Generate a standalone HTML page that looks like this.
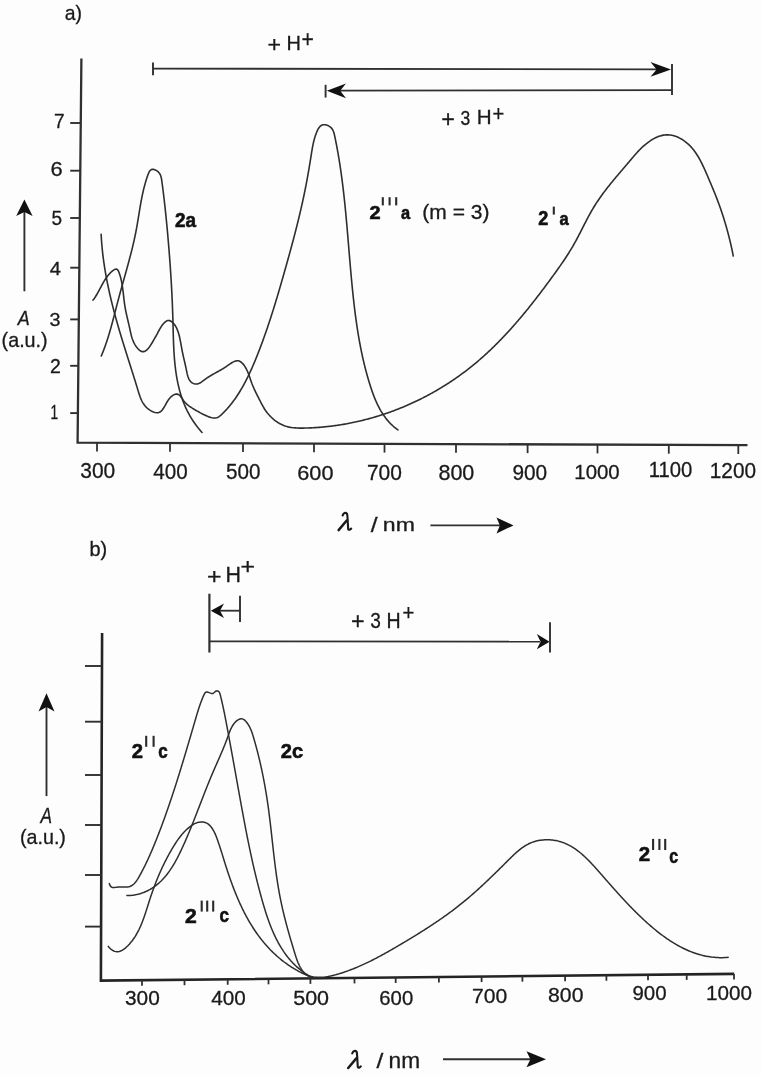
<!DOCTYPE html>
<html><head><meta charset="utf-8"><style>
html,body{margin:0;padding:0;background:#fdfdfd;}
body{width:761px;height:1075px;overflow:hidden;}
svg{display:block;filter:blur(0.35px);}
text{font-family:"Liberation Sans",sans-serif;fill:#1a1a1a;stroke:#1a1a1a;stroke-width:0.3px;}
.b{font-weight:bold;fill:#111;stroke:#111;stroke-width:0.6px;}
.serif{font-family:"Liberation Serif",serif;}
</style></head><body>
<svg width="761" height="1075" viewBox="0 0 761 1075">
<path d="M81.4,58.4 L77.6,442.6 L747.5,445.2" fill="none" stroke="#303030" stroke-width="2.3" stroke-linejoin="miter"/>
<line x1="70.2" y1="123" x2="80.76106194690266" y2="123" stroke="#303030" stroke-width="1.9"/>
<line x1="70.2" y1="170.7" x2="80.28927641853201" y2="170.7" stroke="#303030" stroke-width="1.9"/>
<line x1="70.2" y1="218" x2="79.82144716293597" y2="218" stroke="#303030" stroke-width="1.9"/>
<line x1="70.2" y1="267.7" x2="79.32988027069234" y2="267.7" stroke="#303030" stroke-width="1.9"/>
<line x1="70.2" y1="319.4" x2="78.81853201457574" y2="319.4" stroke="#303030" stroke-width="1.9"/>
<line x1="70.2" y1="365.8" x2="78.35960437272254" y2="365.8" stroke="#303030" stroke-width="1.9"/>
<line x1="70.2" y1="413.1" x2="77.89177511712649" y2="413.1" stroke="#303030" stroke-width="1.9"/>
<line x1="97" y1="442.6752948201224" x2="97" y2="451.47529482012243" stroke="#303030" stroke-width="1.8"/>
<line x1="170" y1="442.95862068965516" x2="170" y2="451.7586206896552" stroke="#303030" stroke-width="1.8"/>
<line x1="243" y1="443.24194655918797" x2="243" y2="452.041946559188" stroke="#303030" stroke-width="1.8"/>
<line x1="314" y1="443.5175100761308" x2="314" y2="452.3175100761308" stroke="#303030" stroke-width="1.8"/>
<line x1="384.5" y1="443.7911330049261" x2="384.5" y2="452.5911330049261" stroke="#303030" stroke-width="1.8"/>
<line x1="456" y1="444.0686371100164" x2="456" y2="452.86863711001644" stroke="#303030" stroke-width="1.8"/>
<line x1="527.6" y1="444.3465293327362" x2="527.6" y2="453.14652933273624" stroke="#303030" stroke-width="1.8"/>
<line x1="597.5" y1="444.61782355575457" x2="597.5" y2="453.4178235557546" stroke="#303030" stroke-width="1.8"/>
<line x1="668.8" y1="444.8945514255859" x2="668.8" y2="453.6945514255859" stroke="#303030" stroke-width="1.8"/>
<line x1="738.3" y1="445.16429317808627" x2="738.3" y2="453.9642931780863" stroke="#303030" stroke-width="1.8"/>
<line x1="24.4" y1="291.3" x2="24.4" y2="210" stroke="#303030" stroke-width="1.9"/>
<path d="M24.4,199.5 L16.2,216 L24.4,211.9 L32.599999999999994,216 Z" fill="#111"/>
<line x1="153" y1="68.6" x2="660" y2="69.4" stroke="#303030" stroke-width="1.8"/>
<line x1="153" y1="62.6" x2="153" y2="75.2" stroke="#303030" stroke-width="1.9"/>
<path d="M671,69.4 L650.5,62.00000000000001 L656.6,69.4 L650.5,76.80000000000001 Z" fill="#111"/>
<line x1="672" y1="64" x2="672" y2="95" stroke="#303030" stroke-width="1.9"/>
<line x1="338" y1="90.6" x2="672" y2="90.1" stroke="#303030" stroke-width="1.8"/>
<line x1="325.6" y1="84.8" x2="325.6" y2="97.6" stroke="#303030" stroke-width="1.9"/>
<path d="M326.8,90.8 L346,83.39999999999999 L340.2,90.8 L346,98.2 Z" fill="#111"/>
<g transform="translate(346,512.7) scale(1.0)" fill="none" stroke="#1a1a1a" stroke-linecap="round"><path d="M-3.4,2.8 C-2.4,0.2 -0.4,-0.6 1.1,1.2 C1.7,4 1.8,12 2.2,16.4 C2.9,17.6 4.2,17.1 5.2,15.8" stroke-width="2.1"/><path d="M0.7,7.8 L-7.4,17.4" stroke-width="2.5"/></g>
<line x1="430.4" y1="525.4" x2="500" y2="525.4" stroke="#303030" stroke-width="1.9"/>
<path d="M513.5,525.4 L496.5,517.4 L499.9,525.4 L496.5,533.4 Z" fill="#111"/>
<line x1="382.8" y1="197.2" x2="382.8" y2="205.4" stroke="#2a2a2a" stroke-width="2.1"/><line x1="389.6" y1="197.2" x2="389.6" y2="205.4" stroke="#2a2a2a" stroke-width="2.1"/><line x1="396.2" y1="197.2" x2="396.2" y2="205.4" stroke="#2a2a2a" stroke-width="2.1"/>
<line x1="553.8" y1="206.6" x2="553.8" y2="214.6" stroke="#2a2a2a" stroke-width="2.1"/>
<line x1="209.4" y1="593.7" x2="209.4" y2="652.5" stroke="#303030" stroke-width="2.2"/>
<line x1="240" y1="595.8" x2="240" y2="622" stroke="#303030" stroke-width="1.9"/>
<line x1="220" y1="610.7" x2="240" y2="610.7" stroke="#303030" stroke-width="1.8"/>
<path d="M210.8,610.7 L224,603.5 L220.0,610.7 L224,617.9000000000001 Z" fill="#111"/>
<line x1="209.4" y1="641.3" x2="540" y2="641.7" stroke="#303030" stroke-width="1.8"/>
<path d="M549.6,641.7 L536.8,634.1 L540.6,641.7 L536.8,649.3000000000001 Z" fill="#111"/>
<line x1="550" y1="622.3" x2="550" y2="652.6" stroke="#303030" stroke-width="1.9"/>
<path d="M102.1,632.9 L100.9,980.6 L734.2,973.9" fill="none" stroke="#242424" stroke-width="2.6" stroke-linejoin="miter"/>
<line x1="85" y1="666" x2="101.98576358930111" y2="666" stroke="#303030" stroke-width="1.9"/>
<line x1="85" y1="721.7" x2="101.79352890422778" y2="721.7" stroke="#303030" stroke-width="1.9"/>
<line x1="85" y1="775" x2="101.60957722174288" y2="775" stroke="#303030" stroke-width="1.9"/>
<line x1="85" y1="825" x2="101.43701466781708" y2="825" stroke="#303030" stroke-width="1.9"/>
<line x1="85" y1="875" x2="101.26445211389128" y2="875" stroke="#303030" stroke-width="1.9"/>
<line x1="85" y1="926.6" x2="101.08636755823987" y2="926.6" stroke="#303030" stroke-width="1.9"/>
<line x1="142" y1="980.16518237802" x2="142" y2="985.66518237802" stroke="#303030" stroke-width="1.8"/>
<line x1="184.5" y1="979.7155534501816" x2="184.5" y2="985.2155534501816" stroke="#303030" stroke-width="1.8"/>
<line x1="227.7" y1="979.2585188694142" x2="227.7" y2="984.7585188694142" stroke="#303030" stroke-width="1.8"/>
<line x1="268.5" y1="978.8268750986895" x2="268.5" y2="984.3268750986895" stroke="#303030" stroke-width="1.8"/>
<line x1="310.4" y1="978.3835938733617" x2="310.4" y2="983.8835938733617" stroke="#303030" stroke-width="1.8"/>
<line x1="354.5" y1="977.9170377388284" x2="354.5" y2="983.4170377388284" stroke="#303030" stroke-width="1.8"/>
<line x1="395.7" y1="977.4811621664298" x2="395.7" y2="982.9811621664298" stroke="#303030" stroke-width="1.8"/>
<line x1="438.9" y1="977.0241275856624" x2="438.9" y2="982.5241275856624" stroke="#303030" stroke-width="1.8"/>
<line x1="481.6" y1="976.5723827569872" x2="481.6" y2="982.0723827569872" stroke="#303030" stroke-width="1.8"/>
<line x1="522.4" y1="976.1407389862625" x2="522.4" y2="981.6407389862625" stroke="#303030" stroke-width="1.8"/>
<line x1="565.1" y1="975.6889941575872" x2="565.1" y2="981.1889941575872" stroke="#303030" stroke-width="1.8"/>
<line x1="606.4" y1="975.2520606347703" x2="606.4" y2="980.7520606347703" stroke="#303030" stroke-width="1.8"/>
<line x1="648" y1="974.8119532606979" x2="648" y2="980.3119532606979" stroke="#303030" stroke-width="1.8"/>
<line x1="686.7" y1="974.4025264487605" x2="686.7" y2="979.9025264487605" stroke="#303030" stroke-width="1.8"/>
<line x1="734" y1="973.9021159008369" x2="734" y2="979.4021159008369" stroke="#303030" stroke-width="1.8"/>
<line x1="46.5" y1="796.1" x2="46.5" y2="705" stroke="#303030" stroke-width="1.9"/>
<path d="M46.5,693.3 L38.5,711.5 L46.5,707.0 L54.5,711.5 Z" fill="#111"/>
<g transform="translate(355.6,1050.6) scale(1.0)" fill="none" stroke="#1a1a1a" stroke-linecap="round"><path d="M-3.4,2.8 C-2.4,0.2 -0.4,-0.6 1.1,1.2 C1.7,4 1.8,12 2.2,16.4 C2.9,17.6 4.2,17.1 5.2,15.8" stroke-width="2.1"/><path d="M0.7,7.8 L-7.4,17.4" stroke-width="2.5"/></g>
<line x1="443" y1="1059.3" x2="532" y2="1059.3" stroke="#303030" stroke-width="1.9"/>
<path d="M546,1059.3 L526.5,1051.3 L530.4,1059.3 L526.5,1067.3 Z" fill="#111"/>
<line x1="146.2" y1="735.8" x2="146.2" y2="746.8" stroke="#2a2a2a" stroke-width="2.1"/><line x1="153.6" y1="735.8" x2="153.6" y2="746.8" stroke="#2a2a2a" stroke-width="2.1"/>
<line x1="201.7" y1="900.6" x2="201.7" y2="911.6" stroke="#2a2a2a" stroke-width="2.1"/><line x1="207.2" y1="900.6" x2="207.2" y2="911.6" stroke="#2a2a2a" stroke-width="2.1"/><line x1="213.2" y1="900.6" x2="213.2" y2="911.6" stroke="#2a2a2a" stroke-width="2.1"/>
<line x1="653.1" y1="838.9" x2="653.1" y2="850" stroke="#2a2a2a" stroke-width="2.1"/><line x1="659.4" y1="838.9" x2="659.4" y2="850" stroke="#2a2a2a" stroke-width="2.1"/><line x1="665.2" y1="838.9" x2="665.2" y2="850" stroke="#2a2a2a" stroke-width="2.1"/>
<text id="a_lab" transform="translate(73.38,20.45) scale(0.970,1)" font-size="20.00" text-anchor="middle">a)</text>
<text id="ya7" transform="translate(59.37,128.45) scale(0.944,1)" font-size="20.14" text-anchor="middle">7</text>
<text id="ya6" transform="translate(56.50,176.45) scale(1.107,1)" font-size="19.79" text-anchor="middle">6</text>
<text id="ya5" transform="translate(56.87,225.45) scale(0.946,1)" font-size="20.13" text-anchor="middle">5</text>
<text id="ya4" transform="translate(55.25,274.70) scale(1.056,1)" font-size="19.06" text-anchor="middle">4</text>
<text id="ya3" transform="translate(54.88,325.95) scale(1.054,1)" font-size="18.73" text-anchor="middle">3</text>
<text id="ya2" transform="translate(55.50,373.20) scale(0.999,1)" font-size="19.43" text-anchor="middle">2</text>
<text id="ya1" transform="translate(54.38,418.70) scale(0.693,1)" font-size="19.79" text-anchor="middle">1</text>
<text id="xa300" transform="translate(97.75,478.20) scale(0.974,1)" font-size="21.53" text-anchor="middle">300</text>
<text id="xa400" transform="translate(170.50,479.45) scale(0.958,1)" font-size="21.53" text-anchor="middle">400</text>
<text id="xa500" transform="translate(243.25,479.45) scale(0.976,1)" font-size="21.18" text-anchor="middle">500</text>
<text id="xa600" transform="translate(315.37,479.95) scale(1.041,1)" font-size="20.84" text-anchor="middle">600</text>
<text id="xa700" transform="translate(384.38,480.20) scale(0.990,1)" font-size="21.18" text-anchor="middle">700</text>
<text id="xa800" transform="translate(456.38,480.20) scale(1.016,1)" font-size="21.18" text-anchor="middle">800</text>
<text id="xa900" transform="translate(529.75,480.20) scale(0.983,1)" font-size="21.18" text-anchor="middle">900</text>
<text id="xa1000" transform="translate(597.00,479.45) scale(1.015,1)" font-size="20.13" text-anchor="middle">1000</text>
<text id="xa1100" transform="translate(670.50,477.45) scale(0.942,1)" font-size="21.53" text-anchor="middle">1100</text>
<text id="xa1200" transform="translate(732.88,477.95) scale(0.937,1)" font-size="22.23" text-anchor="middle">1200</text>
<text id="aA" transform="translate(23.75,325.20) scale(0.891,1)" font-size="20.14" font-style="italic" text-anchor="middle">A</text>
<text id="aau" transform="translate(24.62,346.95) scale(0.986,1)" font-size="20.00" text-anchor="middle">(a.u.)</text>
<text id="ap1" transform="translate(274.25,52.45) scale(1.037,1)" font-size="22.36" text-anchor="middle">+</text>
<text id="aH1" transform="translate(293.63,50.45) scale(0.974,1)" font-size="20.51" text-anchor="middle">H</text>
<text id="as1" transform="translate(307.62,47.20) scale(0.897,1)" font-size="23.56" text-anchor="middle">+</text>
<text id="ap3" transform="translate(448.12,126.95) scale(0.981,1)" font-size="23.85" text-anchor="middle">+</text>
<text id="a3" transform="translate(465.38,124.70) scale(0.843,1)" font-size="20.83" text-anchor="middle">3</text>
<text id="aH3" transform="translate(484.13,124.45) scale(0.989,1)" font-size="20.87" text-anchor="middle">H</text>
<text id="as3" transform="translate(498.50,120.70) scale(0.919,1)" font-size="21.90" text-anchor="middle">+</text>
<text id="aslash" transform="translate(374.25,532.20) scale(1.227,1)" font-size="20.00" text-anchor="middle">/</text>
<text id="anm" transform="translate(398.87,531.20) scale(1.259,1)" font-size="18.32" text-anchor="middle">nm</text>
<text id="l2a" transform="translate(185.62,227.20) scale(0.975,1)" font-size="19.44" class="b" text-anchor="middle">2a</text>
<text id="l2iii" transform="translate(375.00,219.45) scale(1.046,1)" font-size="19.07" class="b" text-anchor="middle">2</text>
<text id="l2iiia" transform="translate(405.50,219.20) scale(0.890,1)" font-size="18.42" class="b" text-anchor="middle">a</text>
<text id="lm3" transform="translate(455.88,219.20) scale(1.051,1)" font-size="20.00" text-anchor="middle">(m = 3)</text>
<text id="l2p" transform="translate(543.37,224.95) scale(0.913,1)" font-size="19.79" class="b" text-anchor="middle">2</text>
<text id="l2pa" transform="translate(564.00,224.70) scale(0.898,1)" font-size="18.39" class="b" text-anchor="middle">a</text>
<text id="b_lab" transform="translate(98.25,555.70) scale(0.998,1)" font-size="20.00" text-anchor="middle">b)</text>
<text id="bp1" transform="translate(214.38,583.70) scale(1.100,1)" font-size="22.59" text-anchor="middle">+</text>
<text id="bH1" transform="translate(233.25,581.95) scale(0.978,1)" font-size="21.97" text-anchor="middle">H</text>
<text id="bs1" transform="translate(247.88,573.70) scale(1.100,1)" font-size="22.59" text-anchor="middle">+</text>
<text id="bp3" transform="translate(357.75,629.45) scale(1.011,1)" font-size="23.02" text-anchor="middle">+</text>
<text id="b3" transform="translate(375.62,627.95) scale(0.845,1)" font-size="22.61" text-anchor="middle">3</text>
<text id="bH3" transform="translate(393.63,627.70) scale(0.907,1)" font-size="21.60" text-anchor="middle">H</text>
<text id="bs3" transform="translate(408.50,619.70) scale(0.913,1)" font-size="22.18" text-anchor="middle">+</text>
<text id="xb300" transform="translate(142.38,1004.95) scale(1.036,1)" font-size="20.12" text-anchor="middle">300</text>
<text id="xb400" transform="translate(228.50,1004.95) scale(1.027,1)" font-size="20.14" text-anchor="middle">400</text>
<text id="xb500" transform="translate(311.12,1004.95) scale(1.070,1)" font-size="20.12" text-anchor="middle">500</text>
<text id="xb600" transform="translate(396.25,1004.70) scale(1.027,1)" font-size="19.79" text-anchor="middle">600</text>
<text id="xb700" transform="translate(489.62,1003.20) scale(1.014,1)" font-size="20.83" text-anchor="middle">700</text>
<text id="xb800" transform="translate(565.75,1001.70) scale(1.018,1)" font-size="20.83" text-anchor="middle">800</text>
<text id="xb900" transform="translate(649.50,999.70) scale(0.982,1)" font-size="20.83" text-anchor="middle">900</text>
<text id="xb1000" transform="translate(729.00,999.70) scale(0.992,1)" font-size="20.83" text-anchor="middle">1000</text>
<text id="bA" transform="translate(46.38,823.20) scale(0.814,1)" font-size="21.24" font-style="italic" text-anchor="middle">A</text>
<text id="bau" transform="translate(43.00,844.20) scale(0.982,1)" font-size="20.00" text-anchor="middle">(a.u.)</text>
<text id="bslash" transform="translate(379.88,1068.20) scale(1.231,1)" font-size="20.00" text-anchor="middle">/</text>
<text id="bnm" transform="translate(404.38,1068.45) scale(1.028,1)" font-size="22.07" text-anchor="middle">nm</text>
<text id="l2ii" transform="translate(137.25,757.70) scale(1.002,1)" font-size="20.14" class="b" text-anchor="middle">2</text>
<text id="l2iic" transform="translate(163.00,757.95) scale(0.864,1)" font-size="19.72" class="b" text-anchor="middle">c</text>
<text id="l2c" transform="translate(292.00,757.95) scale(0.980,1)" font-size="20.49" class="b" text-anchor="middle">2c</text>
<text id="l2iiib" transform="translate(190.87,922.95) scale(1.032,1)" font-size="20.51" class="b" text-anchor="middle">2</text>
<text id="l2iiibc" transform="translate(224.13,922.45) scale(0.884,1)" font-size="19.30" class="b" text-anchor="middle">c</text>
<text id="l2iiir" transform="translate(644.50,861.45) scale(0.996,1)" font-size="20.51" class="b" text-anchor="middle">2</text>
<text id="l2iiirc" transform="translate(673.75,863.45) scale(0.811,1)" font-size="19.74" class="b" text-anchor="middle">c</text>
<path d="M101.28,355.98 L101.75,354.86 L102.22,353.74 L102.67,352.62 L103.12,351.49 L103.56,350.36 L103.99,349.23 L104.41,348.10 L104.83,346.97 L105.23,345.83 L105.64,344.70 L106.03,343.56 L106.42,342.42 L106.80,341.27 L107.18,340.13 L107.55,338.98 L107.92,337.84 L108.28,336.69 L108.63,335.54 L108.98,334.39 L109.33,333.23 L109.67,332.08 L110.01,330.92 L110.34,329.77 L110.67,328.61 L111.00,327.45 L111.32,326.29 L111.64,325.13 L111.95,323.97 L112.27,322.81 L112.58,321.65 L112.89,320.48 L113.20,319.32 L113.50,318.16 L113.81,316.99 L114.11,315.83 L114.41,314.66 L114.71,313.49 L115.01,312.33 L115.31,311.16 L115.61,310.00 L115.91,308.83 L116.21,307.66 L116.51,306.50 L116.81,305.33 L117.12,304.16 L117.42,303.00 L117.72,301.83 L118.03,300.67 L118.34,299.50 L118.65,298.34 L118.96,297.17 L119.27,296.01 L119.59,294.85 L119.90,293.68 L120.22,292.52 L120.54,291.36 L120.86,290.20 L121.18,289.03 L121.51,287.87 L121.83,286.71 L122.15,285.55 L122.48,284.39 L122.80,283.23 L123.13,282.07 L123.46,280.91 L123.78,279.74 L124.11,278.58 L124.44,277.42 L124.76,276.26 L125.09,275.10 L125.41,273.94 L125.74,272.78 L126.06,271.62 L126.39,270.46 L126.71,269.29 L127.03,268.13 L127.35,266.97 L127.67,265.81 L127.99,264.65 L128.31,263.48 L128.62,262.32 L128.93,261.16 L129.24,259.99 L129.55,258.83 L129.86,257.66 L130.17,256.50 L130.47,255.33 L130.77,254.17 L131.07,253.00 L131.36,251.83 L131.66,250.66 L131.95,249.49 L132.23,248.33 L132.52,247.16 L132.80,245.99 L133.07,244.81 L133.35,243.64 L133.62,242.47 L133.88,241.30 L134.15,240.12 L134.41,238.95 L134.66,237.77 L134.91,236.59 L135.16,235.42 L135.40,234.24 L135.64,233.06 L135.87,231.88 L136.10,230.70 L136.32,229.51 L136.54,228.33 L136.75,227.15 L136.97,225.96 L137.17,224.77 L137.38,223.59 L137.58,222.40 L137.78,221.21 L137.97,220.02 L138.17,218.83 L138.37,217.65 L138.56,216.46 L138.75,215.27 L138.95,214.08 L139.14,212.89 L139.33,211.70 L139.53,210.51 L139.73,209.32 L139.92,208.13 L140.13,206.94 L140.33,205.75 L140.54,204.56 L140.75,203.38 L140.96,202.19 L141.18,201.00 L141.40,199.82 L141.63,198.63 L141.86,197.45 L142.10,196.27 L142.34,195.08 L142.59,193.90 L142.85,192.72 L143.12,191.55 L143.39,190.37 L143.67,189.19 L143.96,188.02 L144.26,186.85 L144.56,185.68 L144.88,184.51 L145.20,183.34 L145.54,182.18 L145.89,181.01 L146.24,179.85 L146.61,178.69 L146.99,177.53 L147.39,176.38 L147.79,175.22 L148.21,174.08 L148.67,172.98 L149.17,171.95 L149.73,171.04 L150.38,170.28 L151.14,169.71 L152.01,169.37 L153.02,169.29 L154.16,169.50 L155.37,169.95 L156.57,170.59 L157.67,171.37 L158.60,172.24 L159.37,173.18 L160.00,174.19 L160.50,175.25 L160.90,176.36 L161.21,177.51 L161.46,178.69 L161.66,179.88 L161.83,181.09 L161.99,182.30 L162.16,183.51 L162.32,184.72 L162.48,185.93 L162.63,187.14 L162.79,188.35 L162.94,189.56 L163.10,190.77 L163.25,191.98 L163.40,193.19 L163.54,194.40 L163.69,195.61 L163.83,196.81 L163.98,198.02 L164.12,199.23 L164.26,200.44 L164.40,201.64 L164.54,202.85 L164.67,204.06 L164.81,205.26 L164.94,206.47 L165.07,207.67 L165.20,208.88 L165.33,210.09 L165.46,211.29 L165.59,212.49 L165.71,213.70 L165.84,214.90 L165.96,216.11 L166.08,217.31 L166.20,218.51 L166.32,219.71 L166.44,220.92 L166.56,222.12 L166.67,223.32 L166.79,224.52 L166.90,225.72 L167.02,226.92 L167.13,228.12 L167.24,229.32 L167.35,230.52 L167.46,231.72 L167.57,232.92 L167.67,234.12 L167.78,235.32 L167.88,236.52 L167.99,237.72 L168.09,238.91 L168.20,240.11 L168.30,241.31 L168.40,242.50 L168.50,243.70 L168.60,244.89 L168.70,246.09 L168.80,247.28 L168.89,248.48 L168.99,249.67 L169.08,250.87 L169.18,252.06 L169.27,253.25 L169.37,254.45 L169.46,255.64 L169.55,256.83 L169.64,258.03 L169.73,259.22 L169.82,260.41 L169.91,261.60 L169.99,262.80 L170.08,263.99 L170.16,265.18 L170.25,266.37 L170.33,267.57 L170.41,268.76 L170.49,269.95 L170.57,271.15 L170.65,272.34 L170.73,273.53 L170.81,274.73 L170.88,275.92 L170.96,277.11 L171.03,278.31 L171.10,279.50 L171.18,280.70 L171.25,281.89 L171.32,283.09 L171.38,284.28 L171.45,285.48 L171.52,286.67 L171.58,287.87 L171.65,289.07 L171.71,290.26 L171.77,291.46 L171.83,292.66 L171.89,293.86 L171.95,295.06 L172.01,296.26 L172.07,297.46 L172.12,298.66 L172.18,299.86 L172.23,301.06 L172.28,302.27 L172.33,303.47 L172.38,304.67 L172.43,305.88 L172.47,307.08 L172.52,308.29 L172.56,309.50 L172.61,310.70 L172.65,311.91 L172.69,313.12 L172.73,314.33 L172.77,315.54 L172.80,316.75 L172.84,317.97 L172.87,319.18 L172.91,320.40 L172.94,321.61 L172.97,322.83 L173.00,324.04 L173.03,325.26 L173.06,326.48 L173.09,327.70 L173.12,328.92 L173.15,330.14 L173.18,331.36 L173.21,332.57 L173.24,333.79 L173.28,335.01 L173.31,336.23 L173.35,337.45 L173.39,338.67 L173.43,339.89 L173.47,341.11 L173.52,342.33 L173.56,343.55 L173.61,344.77 L173.67,345.98 L173.72,347.20 L173.78,348.41 L173.85,349.63 L173.91,350.84 L173.98,352.06 L174.06,353.27 L174.14,354.48 L174.22,355.69 L174.31,356.90 L174.40,358.11 L174.50,359.31 L174.60,360.52 L174.71,361.72 L174.83,362.92 L174.95,364.12 L175.07,365.32 L175.21,366.51 L175.35,367.71 L175.49,368.90 L175.64,370.09 L175.80,371.28 L175.97,372.47 L176.14,373.65 L176.33,374.83 L176.52,376.01 L176.71,377.19 L176.92,378.37 L177.13,379.54 L177.36,380.71 L177.59,381.88 L177.83,383.04 L178.08,384.20 L178.34,385.36 L178.61,386.52 L178.89,387.67 L179.18,388.82 L179.47,389.96 L179.78,391.11 L180.10,392.25 L180.43,393.38 L180.78,394.52 L181.13,395.65 L181.49,396.77 L181.87,397.90 L182.26,399.01 L182.65,400.13 L183.07,401.24 L183.49,402.35 L183.93,403.45 L184.37,404.55 L184.84,405.64 L185.31,406.73 L185.80,407.82 L186.30,408.90 L186.82,409.98 L187.35,411.05 L187.89,412.12 L188.45,413.19 L189.02,414.24 L189.61,415.30 L190.21,416.35 L190.82,417.39 L191.46,418.43 L192.10,419.47 L192.77,420.50 L193.45,421.52 L194.14,422.54 L194.85,423.55 L195.58,424.56 L196.32,425.57 L197.08,426.56 L197.86,427.56 L198.66,428.54 L199.47,429.52 L200.30,430.50 L201.15,431.47 L202.02,432.43" fill="none" stroke="#2e2e2e" stroke-width="1.6" stroke-linecap="round" stroke-linejoin="round"/>
<path d="M93.04,300.10 L93.75,299.18 L94.43,298.24 L95.09,297.28 L95.72,296.29 L96.34,295.28 L96.95,294.26 L97.54,293.22 L98.13,292.16 L98.70,291.10 L99.28,290.02 L99.85,288.94 L100.42,287.86 L100.99,286.77 L101.57,285.69 L102.15,284.60 L102.75,283.52 L103.36,282.44 L103.98,281.38 L104.63,280.32 L105.29,279.28 L105.97,278.25 L106.68,277.25 L107.42,276.26 L108.19,275.29 L108.99,274.34 L109.83,273.42 L110.71,272.54 L111.62,271.68 L112.57,270.87 L113.53,270.16 L114.47,269.60 L115.38,269.24 L116.23,269.12 L117.00,269.29 L117.67,269.81 L118.22,270.65 L118.70,271.70 L119.13,272.82 L119.53,273.95 L119.90,275.09 L120.25,276.24 L120.57,277.40 L120.88,278.57 L121.15,279.74 L121.41,280.92 L121.66,282.11 L121.88,283.30 L122.09,284.49 L122.28,285.70 L122.47,286.90 L122.64,288.11 L122.80,289.32 L122.95,290.53 L123.10,291.75 L123.25,292.96 L123.38,294.18 L123.52,295.40 L123.66,296.62 L123.80,297.83 L123.94,299.05 L124.08,300.26 L124.23,301.47 L124.39,302.67 L124.55,303.88 L124.73,305.08 L124.92,306.27 L125.12,307.46 L125.33,308.64 L125.55,309.82 L125.78,311.00 L126.02,312.17 L126.27,313.34 L126.52,314.50 L126.78,315.67 L127.05,316.83 L127.31,317.99 L127.58,319.15 L127.86,320.30 L128.13,321.46 L128.40,322.62 L128.67,323.78 L128.94,324.94 L129.21,326.10 L129.47,327.26 L129.72,328.42 L129.97,329.59 L130.22,330.75 L130.48,331.92 L130.74,333.09 L131.02,334.26 L131.31,335.42 L131.63,336.58 L131.98,337.74 L132.36,338.90 L132.77,340.04 L133.23,341.19 L133.74,342.32 L134.30,343.45 L134.92,344.57 L135.60,345.68 L136.34,346.77 L137.14,347.81 L137.97,348.77 L138.85,349.64 L139.75,350.39 L140.67,350.99 L141.61,351.41 L142.55,351.64 L143.48,351.64 L144.40,351.42 L145.31,350.99 L146.21,350.38 L147.09,349.61 L147.94,348.72 L148.78,347.72 L149.58,346.65 L150.36,345.52 L151.11,344.36 L151.83,343.21 L152.51,342.07 L153.16,340.98 L153.77,339.94 L154.35,338.94 L154.91,337.96 L155.46,336.99 L156.00,336.02 L156.53,335.05 L157.07,334.06 L157.62,333.03 L158.18,331.97 L158.76,330.87 L159.37,329.75 L160.01,328.62 L160.69,327.49 L161.40,326.37 L162.15,325.29 L162.96,324.24 L163.81,323.25 L164.72,322.33 L165.66,321.55 L166.63,320.93 L167.61,320.54 L168.59,320.42 L169.56,320.59 L170.50,321.00 L171.40,321.55 L172.24,322.20 L173.03,322.92 L173.77,323.71 L174.46,324.55 L175.10,325.46 L175.70,326.41 L176.25,327.42 L176.77,328.47 L177.25,329.57 L177.69,330.70 L178.10,331.87 L178.49,333.06 L178.84,334.28 L179.17,335.52 L179.48,336.78 L179.77,338.05 L180.04,339.33 L180.30,340.62 L180.54,341.90 L180.78,343.18 L181.00,344.46 L181.23,345.72 L181.45,346.97 L181.67,348.19 L181.89,349.40 L182.12,350.58 L182.35,351.73 L182.59,352.87 L182.83,353.99 L183.07,355.10 L183.32,356.21 L183.56,357.30 L183.81,358.39 L184.06,359.48 L184.32,360.58 L184.57,361.68 L184.83,362.79 L185.08,363.92 L185.34,365.06 L185.60,366.22 L185.85,367.40 L186.11,368.61 L186.37,369.84 L186.62,371.11 L186.89,372.39 L187.17,373.67 L187.49,374.95 L187.84,376.19 L188.24,377.39 L188.71,378.54 L189.24,379.61 L189.85,380.59 L190.55,381.48 L191.35,382.25 L192.24,382.89 L193.22,383.39 L194.26,383.75 L195.35,383.95 L196.47,384.00 L197.60,383.87 L198.72,383.57 L199.83,383.09 L200.91,382.45 L201.97,381.71 L203.01,380.91 L204.05,380.10 L205.07,379.33 L206.09,378.59 L207.11,377.89 L208.12,377.22 L209.12,376.57 L210.12,375.95 L211.12,375.35 L212.12,374.77 L213.12,374.20 L214.12,373.64 L215.12,373.09 L216.12,372.54 L217.12,371.99 L218.13,371.43 L219.14,370.87 L220.16,370.30 L221.18,369.72 L222.21,369.11 L223.25,368.49 L224.30,367.84 L225.36,367.16 L226.42,366.46 L227.50,365.71 L228.59,364.95 L229.68,364.19 L230.77,363.46 L231.86,362.77 L232.95,362.14 L234.02,361.61 L235.08,361.19 L236.13,360.90 L237.16,360.76 L238.16,360.80 L239.14,361.04 L240.08,361.46 L241.00,362.04 L241.88,362.77 L242.72,363.61 L243.52,364.55 L244.28,365.57 L244.99,366.65 L245.66,367.76 L246.28,368.88 L246.85,370.00 L247.37,371.13 L247.86,372.25 L248.31,373.37 L248.74,374.50 L249.15,375.62 L249.54,376.74 L249.92,377.86 L250.30,378.98 L250.68,380.10 L251.06,381.22 L251.46,382.33 L251.87,383.45 L252.31,384.56 L252.76,385.68 L253.23,386.79 L253.71,387.89 L254.20,389.00 L254.71,390.10 L255.23,391.20 L255.75,392.30 L256.29,393.39 L256.83,394.48 L257.37,395.57 L257.92,396.65 L258.47,397.73 L259.02,398.81 L259.57,399.88 L260.12,400.94 L260.66,402.00 L261.20,403.06 L261.75,404.10 L262.31,405.15 L262.88,406.18 L263.46,407.20 L264.07,408.22 L264.70,409.23 L265.37,410.22 L266.06,411.21 L266.79,412.18 L267.54,413.14 L268.32,414.08 L269.13,415.00 L269.96,415.90 L270.82,416.78 L271.71,417.64 L272.61,418.47 L273.54,419.27 L274.49,420.05 L275.46,420.80 L276.45,421.51 L277.46,422.20 L278.49,422.84 L279.53,423.46 L280.59,424.03 L281.66,424.56 L282.75,425.06 L283.85,425.50 L284.96,425.91 L286.08,426.27 L287.21,426.60 L288.35,426.88 L289.50,427.13 L290.66,427.35 L291.83,427.53 L293.00,427.68 L294.19,427.81 L295.37,427.91 L296.56,427.99 L297.76,428.05 L298.96,428.09 L300.16,428.11 L301.37,428.12 L302.57,428.11 L303.78,428.09 L304.99,428.07 L306.20,428.04 L307.41,428.00 L308.62,427.96 L309.82,427.91 L311.03,427.86 L312.24,427.80 L313.44,427.74 L314.65,427.67 L315.85,427.59 L317.06,427.51 L318.26,427.42 L319.47,427.33 L320.67,427.23 L321.87,427.13 L323.07,427.02 L324.27,426.91 L325.47,426.79 L326.67,426.66 L327.87,426.53 L329.07,426.39 L330.27,426.25 L331.46,426.11 L332.66,425.95 L333.85,425.80 L335.05,425.63 L336.24,425.47 L337.43,425.29 L338.62,425.11 L339.81,424.93 L341.00,424.74 L342.19,424.55 L343.38,424.35 L344.57,424.14 L345.75,423.93 L346.94,423.71 L348.12,423.49 L349.30,423.27 L350.48,423.04 L351.66,422.80 L352.84,422.56 L354.02,422.31 L355.20,422.06 L356.37,421.80 L357.55,421.54 L358.72,421.27 L359.89,421.00 L361.06,420.72 L362.23,420.44 L363.40,420.15 L364.57,419.85 L365.73,419.56 L366.90,419.25 L368.06,418.94 L369.22,418.63 L370.38,418.31 L371.54,417.99 L372.70,417.66 L373.85,417.33 L375.01,416.99 L376.16,416.64 L377.31,416.29 L378.46,415.94 L379.61,415.58 L380.75,415.22 L381.90,414.85 L383.04,414.48 L384.18,414.10 L385.32,413.71 L386.46,413.33 L387.60,412.93 L388.73,412.54 L389.87,412.13 L391.00,411.73 L392.13,411.31 L393.25,410.90 L394.38,410.47 L395.50,410.05 L396.63,409.62 L397.75,409.18 L398.86,408.74 L399.98,408.29 L401.10,407.84 L402.21,407.39 L403.32,406.93 L404.43,406.46 L405.53,405.99 L406.64,405.52 L407.74,405.04 L408.84,404.55 L409.94,404.07 L411.04,403.57 L412.13,403.08 L413.22,402.57 L414.31,402.07 L415.40,401.56 L416.49,401.04 L417.57,400.52 L418.65,399.99 L419.73,399.46 L420.81,398.93 L421.88,398.39 L422.95,397.85 L424.02,397.30 L425.09,396.75 L426.16,396.19 L427.22,395.63 L428.28,395.06 L429.34,394.49 L430.39,393.92 L431.44,393.34 L432.49,392.75 L433.54,392.17 L434.59,391.57 L435.63,390.98 L436.67,390.38 L437.71,389.77 L438.74,389.16 L439.78,388.55 L440.81,387.93 L441.83,387.30 L442.86,386.68 L443.88,386.04 L444.90,385.41 L445.91,384.77 L446.93,384.12 L447.94,383.47 L448.95,382.82 L449.95,382.16 L450.95,381.50 L451.95,380.84 L452.95,380.16 L453.94,379.49 L454.93,378.81 L455.92,378.13 L456.91,377.44 L457.89,376.75 L458.87,376.06 L459.84,375.36 L460.82,374.65 L461.79,373.95 L462.75,373.23 L463.72,372.52 L464.68,371.80 L465.64,371.07 L466.59,370.35 L467.54,369.61 L468.49,368.88 L469.43,368.14 L470.38,367.39 L471.32,366.64 L472.25,365.89 L473.18,365.13 L474.11,364.37 L475.04,363.61 L475.96,362.84 L476.88,362.07 L477.79,361.29 L478.71,360.51 L479.61,359.73 L480.52,358.94 L481.42,358.15 L482.32,357.36 L483.22,356.56 L484.11,355.76 L485.01,354.95 L485.89,354.14 L486.78,353.33 L487.66,352.52 L488.54,351.70 L489.41,350.88 L490.29,350.05 L491.16,349.22 L492.02,348.39 L492.89,347.55 L493.75,346.71 L494.61,345.87 L495.46,345.03 L496.32,344.18 L497.17,343.33 L498.01,342.47 L498.86,341.62 L499.70,340.76 L500.54,339.90 L501.38,339.03 L502.21,338.16 L503.04,337.29 L503.87,336.42 L504.70,335.54 L505.52,334.66 L506.34,333.78 L507.16,332.90 L507.98,332.01 L508.79,331.12 L509.60,330.23 L510.41,329.34 L511.22,328.44 L512.02,327.54 L512.83,326.64 L513.62,325.74 L514.42,324.83 L515.22,323.92 L516.01,323.01 L516.80,322.10 L517.59,321.19 L518.37,320.27 L519.16,319.35 L519.94,318.43 L520.72,317.51 L521.50,316.59 L522.27,315.66 L523.04,314.73 L523.81,313.80 L524.58,312.87 L525.35,311.94 L526.11,311.01 L526.88,310.07 L527.64,309.13 L528.40,308.19 L529.15,307.25 L529.91,306.31 L530.66,305.37 L531.41,304.42 L532.16,303.48 L532.91,302.53 L533.66,301.58 L534.40,300.63 L535.14,299.68 L535.88,298.72 L536.62,297.77 L537.36,296.82 L538.10,295.86 L538.83,294.90 L539.56,293.95 L540.29,292.99 L541.02,292.03 L541.75,291.07 L542.48,290.10 L543.20,289.14 L543.92,288.18 L544.64,287.22 L545.36,286.25 L546.08,285.29 L546.80,284.32 L547.52,283.35 L548.23,282.39 L548.94,281.42 L549.65,280.45 L550.36,279.48 L551.07,278.51 L551.78,277.55 L552.49,276.58 L553.19,275.61 L553.90,274.64 L554.60,273.67 L555.30,272.69 L556.00,271.72 L556.70,270.75 L557.39,269.78 L558.08,268.80 L558.77,267.83 L559.46,266.85 L560.15,265.87 L560.83,264.89 L561.51,263.91 L562.19,262.92 L562.86,261.94 L563.53,260.95 L564.20,259.96 L564.86,258.97 L565.52,257.97 L566.17,256.97 L566.83,255.97 L567.47,254.97 L568.12,253.96 L568.75,252.96 L569.39,251.94 L570.02,250.93 L570.64,249.91 L571.26,248.88 L571.87,247.86 L572.48,246.83 L573.09,245.79 L573.68,244.75 L574.28,243.71 L574.86,242.67 L575.44,241.61 L576.02,240.56 L576.59,239.50 L577.16,238.44 L577.72,237.38 L578.28,236.31 L578.84,235.24 L579.39,234.17 L579.94,233.10 L580.49,232.02 L581.04,230.95 L581.59,229.87 L582.14,228.80 L582.68,227.72 L583.23,226.64 L583.78,225.56 L584.33,224.49 L584.88,223.41 L585.43,222.33 L585.99,221.26 L586.54,220.19 L587.10,219.11 L587.67,218.05 L588.23,216.98 L588.80,215.91 L589.38,214.85 L589.96,213.79 L590.55,212.74 L591.14,211.69 L591.74,210.64 L592.34,209.60 L592.95,208.56 L593.57,207.53 L594.20,206.50 L594.83,205.47 L595.48,204.45 L596.13,203.44 L596.78,202.43 L597.45,201.43 L598.12,200.43 L598.80,199.43 L599.48,198.44 L600.17,197.45 L600.87,196.47 L601.57,195.49 L602.28,194.52 L602.99,193.54 L603.71,192.58 L604.43,191.61 L605.16,190.65 L605.89,189.69 L606.63,188.74 L607.37,187.79 L608.12,186.84 L608.87,185.90 L609.62,184.95 L610.37,184.01 L611.13,183.08 L611.89,182.14 L612.66,181.21 L613.43,180.28 L614.19,179.35 L614.97,178.42 L615.74,177.50 L616.51,176.58 L617.29,175.65 L618.07,174.73 L618.85,173.82 L619.63,172.90 L620.41,171.98 L621.19,171.07 L621.97,170.15 L622.75,169.24 L623.53,168.33 L624.31,167.41 L625.09,166.50 L625.86,165.59 L626.64,164.68 L627.42,163.77 L628.19,162.86 L628.97,161.95 L629.74,161.04 L630.51,160.13 L631.27,159.21 L632.04,158.30 L632.81,157.40 L633.58,156.49 L634.36,155.59 L635.14,154.69 L635.93,153.80 L636.72,152.92 L637.52,152.04 L638.33,151.16 L639.15,150.30 L639.98,149.45 L640.83,148.60 L641.68,147.77 L642.56,146.94 L643.44,146.13 L644.35,145.33 L645.27,144.55 L646.21,143.78 L647.18,143.02 L648.16,142.28 L649.17,141.56 L650.19,140.86 L651.23,140.19 L652.29,139.54 L653.37,138.92 L654.46,138.33 L655.56,137.78 L656.68,137.26 L657.81,136.79 L658.94,136.36 L660.09,135.98 L661.24,135.65 L662.40,135.37 L663.57,135.14 L664.74,134.98 L665.91,134.87 L667.08,134.83 L668.26,134.85 L669.43,134.94 L670.60,135.08 L671.76,135.28 L672.92,135.54 L674.07,135.85 L675.21,136.21 L676.35,136.61 L677.46,137.07 L678.57,137.56 L679.65,138.10 L680.73,138.67 L681.78,139.28 L682.81,139.92 L683.82,140.60 L684.80,141.30 L685.76,142.03 L686.70,142.78 L687.61,143.56 L688.49,144.36 L689.35,145.18 L690.19,146.03 L691.00,146.89 L691.79,147.77 L692.56,148.67 L693.31,149.59 L694.04,150.53 L694.76,151.49 L695.45,152.45 L696.13,153.44 L696.79,154.44 L697.43,155.45 L698.06,156.47 L698.67,157.51 L699.27,158.56 L699.86,159.61 L700.43,160.68 L700.99,161.76 L701.55,162.84 L702.09,163.93 L702.62,165.03 L703.14,166.13 L703.66,167.23 L704.17,168.34 L704.67,169.46 L705.16,170.57 L705.66,171.69 L706.14,172.81 L706.63,173.93 L707.11,175.04 L707.58,176.16 L708.06,177.27 L708.54,178.38 L709.01,179.49 L709.48,180.60 L709.95,181.70 L710.42,182.81 L710.89,183.91 L711.35,185.01 L711.81,186.11 L712.27,187.21 L712.73,188.32 L713.19,189.42 L713.64,190.52 L714.09,191.62 L714.54,192.72 L714.98,193.82 L715.42,194.93 L715.86,196.04 L716.30,197.14 L716.73,198.25 L717.16,199.37 L717.58,200.48 L718.00,201.60 L718.42,202.72 L718.83,203.84 L719.24,204.96 L719.65,206.09 L720.05,207.22 L720.45,208.36 L720.84,209.49 L721.23,210.63 L721.62,211.77 L722.00,212.91 L722.38,214.06 L722.76,215.20 L723.13,216.35 L723.50,217.50 L723.86,218.65 L724.22,219.81 L724.57,220.96 L724.92,222.12 L725.27,223.28 L725.61,224.44 L725.95,225.60 L726.28,226.76 L726.62,227.93 L726.94,229.09 L727.26,230.26 L727.58,231.42 L727.89,232.59 L728.20,233.76 L728.51,234.93 L728.81,236.10 L729.11,237.27 L729.40,238.44 L729.69,239.61 L729.97,240.78 L730.25,241.95 L730.52,243.12 L730.79,244.29 L731.06,245.46 L731.32,246.63 L731.58,247.81 L731.83,248.98 L732.08,250.15 L732.33,251.32 L732.56,252.49 L732.80,253.65 L733.03,254.82 L733.26,255.99" fill="none" stroke="#2e2e2e" stroke-width="1.6" stroke-linecap="round" stroke-linejoin="round"/>
<path d="M101.14,234.26 L101.20,235.47 L101.27,236.68 L101.34,237.88 L101.41,239.08 L101.49,240.29 L101.58,241.49 L101.67,242.69 L101.77,243.89 L101.87,245.09 L101.97,246.29 L102.09,247.49 L102.20,248.69 L102.32,249.89 L102.45,251.09 L102.58,252.28 L102.71,253.48 L102.85,254.67 L102.99,255.87 L103.14,257.06 L103.29,258.25 L103.45,259.44 L103.61,260.64 L103.77,261.83 L103.94,263.02 L104.12,264.21 L104.30,265.39 L104.48,266.58 L104.66,267.77 L104.85,268.96 L105.05,270.14 L105.25,271.33 L105.45,272.51 L105.65,273.70 L105.86,274.88 L106.08,276.06 L106.29,277.24 L106.51,278.42 L106.74,279.60 L106.97,280.78 L107.20,281.96 L107.43,283.14 L107.67,284.32 L107.91,285.50 L108.16,286.67 L108.41,287.85 L108.66,289.02 L108.91,290.20 L109.17,291.37 L109.43,292.54 L109.69,293.72 L109.96,294.89 L110.23,296.06 L110.51,297.23 L110.78,298.40 L111.06,299.57 L111.34,300.74 L111.63,301.91 L111.91,303.07 L112.20,304.24 L112.50,305.41 L112.79,306.57 L113.09,307.74 L113.39,308.90 L113.69,310.06 L114.00,311.23 L114.30,312.39 L114.61,313.55 L114.93,314.71 L115.24,315.87 L115.56,317.03 L115.88,318.19 L116.20,319.35 L116.52,320.51 L116.84,321.66 L117.17,322.82 L117.50,323.97 L117.83,325.13 L118.16,326.28 L118.50,327.44 L118.83,328.59 L119.17,329.74 L119.51,330.90 L119.85,332.05 L120.19,333.20 L120.53,334.35 L120.88,335.50 L121.23,336.65 L121.58,337.80 L121.92,338.94 L122.28,340.09 L122.63,341.24 L122.98,342.39 L123.33,343.53 L123.69,344.68 L124.05,345.82 L124.40,346.97 L124.76,348.11 L125.12,349.26 L125.48,350.40 L125.84,351.55 L126.20,352.69 L126.56,353.84 L126.92,354.98 L127.28,356.12 L127.65,357.27 L128.01,358.41 L128.37,359.56 L128.74,360.70 L129.10,361.85 L129.46,362.99 L129.83,364.14 L130.19,365.28 L130.55,366.43 L130.92,367.57 L131.28,368.72 L131.64,369.87 L132.01,371.01 L132.37,372.16 L132.73,373.31 L133.09,374.46 L133.45,375.61 L133.81,376.76 L134.17,377.91 L134.53,379.06 L134.89,380.21 L135.25,381.36 L135.61,382.52 L135.96,383.67 L136.32,384.83 L136.67,385.98 L137.02,387.14 L137.37,388.30 L137.72,389.46 L138.07,390.62 L138.42,391.77 L138.78,392.93 L139.15,394.08 L139.53,395.22 L139.93,396.36 L140.34,397.48 L140.79,398.59 L141.26,399.68 L141.77,400.75 L142.31,401.80 L142.90,402.82 L143.53,403.82 L144.21,404.80 L144.94,405.74 L145.73,406.65 L146.57,407.53 L147.49,408.36 L148.47,409.16 L149.52,409.92 L150.63,410.62 L151.78,411.25 L152.96,411.79 L154.13,412.23 L155.30,412.54 L156.43,412.72 L157.51,412.74 L158.52,412.60 L159.46,412.27 L160.32,411.79 L161.13,411.16 L161.88,410.40 L162.59,409.53 L163.27,408.57 L163.93,407.53 L164.57,406.43 L165.21,405.29 L165.86,404.12 L166.52,402.94 L167.20,401.76 L167.91,400.61 L168.67,399.50 L169.48,398.45 L170.35,397.47 L171.26,396.59 L172.21,395.81 L173.18,395.16 L174.16,394.64 L175.15,394.29 L176.14,394.12 L177.11,394.13 L178.05,394.36 L178.96,394.81 L179.82,395.50 L180.64,396.41 L181.42,397.46 L182.18,398.57 L182.93,399.67 L183.67,400.71 L184.41,401.67 L185.17,402.55 L185.96,403.38 L186.78,404.17 L187.65,404.92 L188.57,405.64 L189.53,406.33 L190.53,407.01 L191.55,407.67 L192.59,408.31 L193.64,408.95 L194.68,409.58 L195.72,410.20 L196.76,410.82 L197.80,411.42 L198.85,412.02 L199.89,412.60 L200.94,413.17 L202.00,413.73 L203.07,414.28 L204.15,414.80 L205.24,415.31 L206.34,415.80 L207.46,416.27 L208.60,416.71 L209.75,417.13 L210.91,417.49 L212.06,417.78 L213.22,417.97 L214.36,418.05 L215.48,418.00 L216.57,417.80 L217.63,417.42 L218.66,416.87 L219.65,416.18 L220.61,415.39 L221.55,414.54 L222.46,413.66 L223.36,412.78 L224.24,411.89 L225.10,411.00 L225.94,410.10 L226.77,409.20 L227.58,408.30 L228.38,407.38 L229.16,406.47 L229.93,405.55 L230.68,404.62 L231.42,403.69 L232.15,402.75 L232.87,401.80 L233.58,400.85 L234.28,399.90 L234.97,398.93 L235.65,397.96 L236.32,396.98 L236.98,396.00 L237.63,395.01 L238.28,394.01 L238.92,393.01 L239.55,392.00 L240.17,390.98 L240.78,389.96 L241.39,388.94 L241.99,387.90 L242.58,386.87 L243.17,385.83 L243.75,384.78 L244.32,383.73 L244.88,382.67 L245.44,381.61 L245.99,380.55 L246.54,379.48 L247.08,378.41 L247.61,377.33 L248.14,376.25 L248.66,375.17 L249.18,374.08 L249.69,372.99 L250.20,371.90 L250.70,370.80 L251.20,369.70 L251.69,368.60 L252.18,367.50 L252.66,366.39 L253.14,365.29 L253.61,364.18 L254.09,363.06 L254.55,361.95 L255.02,360.83 L255.48,359.72 L255.93,358.60 L256.39,357.48 L256.84,356.36 L257.28,355.24 L257.73,354.12 L258.17,353.00 L258.61,351.87 L259.05,350.75 L259.48,349.63 L259.91,348.50 L260.34,347.37 L260.76,346.25 L261.19,345.12 L261.61,343.99 L262.03,342.86 L262.44,341.74 L262.85,340.61 L263.27,339.48 L263.67,338.34 L264.08,337.21 L264.48,336.08 L264.89,334.95 L265.28,333.81 L265.68,332.68 L266.08,331.55 L266.47,330.41 L266.86,329.27 L267.25,328.14 L267.63,327.00 L268.02,325.86 L268.40,324.72 L268.78,323.59 L269.16,322.45 L269.54,321.31 L269.91,320.17 L270.29,319.03 L270.66,317.88 L271.03,316.74 L271.39,315.60 L271.76,314.46 L272.12,313.31 L272.49,312.17 L272.85,311.03 L273.21,309.88 L273.57,308.74 L273.92,307.59 L274.28,306.44 L274.63,305.30 L274.99,304.15 L275.34,303.00 L275.69,301.86 L276.04,300.71 L276.38,299.56 L276.73,298.41 L277.08,297.26 L277.42,296.11 L277.76,294.96 L278.10,293.81 L278.44,292.66 L278.78,291.51 L279.12,290.36 L279.46,289.20 L279.80,288.05 L280.13,286.90 L280.47,285.75 L280.80,284.59 L281.14,283.44 L281.47,282.29 L281.80,281.13 L282.13,279.98 L282.47,278.82 L282.80,277.67 L283.13,276.51 L283.45,275.36 L283.78,274.20 L284.11,273.05 L284.44,271.89 L284.77,270.73 L285.09,269.58 L285.42,268.42 L285.75,267.26 L286.07,266.11 L286.40,264.95 L286.72,263.79 L287.05,262.64 L287.37,261.48 L287.69,260.32 L288.02,259.16 L288.34,258.00 L288.66,256.84 L288.98,255.68 L289.30,254.52 L289.62,253.36 L289.94,252.20 L290.26,251.04 L290.57,249.88 L290.89,248.72 L291.20,247.56 L291.52,246.40 L291.83,245.24 L292.14,244.08 L292.45,242.92 L292.76,241.75 L293.07,240.59 L293.38,239.43 L293.69,238.26 L294.00,237.10 L294.30,235.94 L294.60,234.77 L294.91,233.61 L295.21,232.44 L295.51,231.28 L295.81,230.11 L296.10,228.95 L296.40,227.78 L296.69,226.61 L296.99,225.45 L297.28,224.28 L297.57,223.11 L297.86,221.95 L298.15,220.78 L298.43,219.61 L298.72,218.44 L299.00,217.27 L299.28,216.10 L299.56,214.93 L299.84,213.76 L300.11,212.59 L300.39,211.42 L300.66,210.25 L300.93,209.08 L301.20,207.91 L301.47,206.74 L301.73,205.56 L302.00,204.39 L302.26,203.22 L302.52,202.04 L302.78,200.87 L303.03,199.70 L303.29,198.52 L303.54,197.35 L303.79,196.17 L304.03,194.99 L304.28,193.82 L304.52,192.64 L304.76,191.46 L305.00,190.29 L305.24,189.11 L305.47,187.93 L305.70,186.75 L305.93,185.57 L306.16,184.39 L306.39,183.21 L306.61,182.03 L306.83,180.85 L307.05,179.67 L307.27,178.49 L307.48,177.30 L307.69,176.12 L307.90,174.94 L308.11,173.76 L308.32,172.57 L308.53,171.39 L308.73,170.20 L308.93,169.02 L309.13,167.83 L309.33,166.65 L309.53,165.46 L309.73,164.28 L309.92,163.09 L310.11,161.90 L310.31,160.72 L310.50,159.53 L310.69,158.34 L310.88,157.15 L311.06,155.97 L311.25,154.78 L311.44,153.59 L311.63,152.40 L311.82,151.21 L312.02,150.02 L312.22,148.84 L312.43,147.65 L312.65,146.47 L312.88,145.29 L313.12,144.11 L313.38,142.94 L313.65,141.77 L313.93,140.60 L314.24,139.43 L314.57,138.27 L314.91,137.12 L315.28,135.96 L315.68,134.82 L316.09,133.68 L316.54,132.54 L317.02,131.41 L317.52,130.29 L318.07,129.21 L318.67,128.18 L319.34,127.24 L320.08,126.41 L320.90,125.72 L321.81,125.18 L322.83,124.83 L323.97,124.70 L325.22,124.78 L326.52,125.07 L327.80,125.53 L329.01,126.13 L330.09,126.83 L331.01,127.63 L331.79,128.51 L332.45,129.47 L333.00,130.48 L333.46,131.55 L333.85,132.66 L334.18,133.81 L334.46,134.97 L334.72,136.15 L334.97,137.34 L335.22,138.53 L335.46,139.71 L335.70,140.90 L335.94,142.08 L336.17,143.27 L336.40,144.46 L336.63,145.64 L336.86,146.83 L337.08,148.02 L337.30,149.21 L337.51,150.39 L337.73,151.58 L337.94,152.77 L338.15,153.96 L338.35,155.15 L338.55,156.34 L338.75,157.53 L338.95,158.72 L339.15,159.90 L339.34,161.09 L339.53,162.28 L339.72,163.47 L339.90,164.66 L340.08,165.85 L340.26,167.05 L340.44,168.24 L340.61,169.43 L340.79,170.62 L340.96,171.81 L341.13,173.00 L341.29,174.19 L341.46,175.38 L341.62,176.58 L341.78,177.77 L341.94,178.96 L342.09,180.15 L342.25,181.34 L342.40,182.54 L342.55,183.73 L342.70,184.92 L342.84,186.12 L342.99,187.31 L343.13,188.50 L343.27,189.70 L343.41,190.89 L343.55,192.08 L343.69,193.28 L343.82,194.47 L343.95,195.67 L344.09,196.86 L344.22,198.05 L344.34,199.25 L344.47,200.44 L344.60,201.64 L344.72,202.83 L344.85,204.03 L344.97,205.22 L345.09,206.42 L345.21,207.61 L345.33,208.81 L345.44,210.00 L345.56,211.20 L345.68,212.39 L345.79,213.59 L345.90,214.78 L346.01,215.98 L346.13,217.18 L346.24,218.37 L346.35,219.57 L346.45,220.76 L346.56,221.96 L346.67,223.16 L346.78,224.35 L346.88,225.55 L346.99,226.75 L347.09,227.94 L347.19,229.14 L347.30,230.34 L347.40,231.53 L347.50,232.73 L347.60,233.93 L347.71,235.12 L347.81,236.32 L347.91,237.52 L348.01,238.71 L348.11,239.91 L348.21,241.11 L348.31,242.30 L348.41,243.50 L348.51,244.70 L348.61,245.89 L348.71,247.09 L348.81,248.29 L348.91,249.49 L349.00,250.68 L349.10,251.88 L349.20,253.08 L349.30,254.27 L349.40,255.47 L349.50,256.67 L349.60,257.87 L349.71,259.06 L349.81,260.26 L349.91,261.46 L350.01,262.65 L350.11,263.85 L350.21,265.05 L350.32,266.24 L350.42,267.44 L350.53,268.64 L350.63,269.84 L350.74,271.03 L350.84,272.23 L350.95,273.43 L351.06,274.62 L351.17,275.82 L351.27,277.02 L351.38,278.21 L351.50,279.41 L351.61,280.61 L351.72,281.80 L351.83,283.00 L351.95,284.20 L352.07,285.39 L352.18,286.59 L352.30,287.79 L352.42,288.98 L352.54,290.18 L352.66,291.38 L352.79,292.57 L352.91,293.77 L353.04,294.96 L353.16,296.16 L353.29,297.36 L353.42,298.55 L353.55,299.75 L353.69,300.94 L353.82,302.14 L353.96,303.33 L354.09,304.53 L354.23,305.72 L354.37,306.92 L354.52,308.11 L354.66,309.30 L354.81,310.50 L354.96,311.69 L355.11,312.89 L355.26,314.08 L355.42,315.27 L355.58,316.46 L355.74,317.66 L355.90,318.85 L356.06,320.04 L356.23,321.23 L356.40,322.42 L356.57,323.61 L356.74,324.80 L356.92,325.99 L357.10,327.18 L357.28,328.37 L357.46,329.56 L357.65,330.74 L357.84,331.93 L358.03,333.12 L358.22,334.30 L358.42,335.49 L358.62,336.67 L358.83,337.86 L359.03,339.04 L359.24,340.22 L359.46,341.41 L359.67,342.59 L359.89,343.77 L360.11,344.95 L360.34,346.13 L360.57,347.31 L360.80,348.49 L361.04,349.67 L361.28,350.84 L361.52,352.02 L361.77,353.20 L362.02,354.37 L362.27,355.54 L362.53,356.72 L362.79,357.89 L363.05,359.06 L363.32,360.23 L363.59,361.40 L363.87,362.57 L364.15,363.74 L364.44,364.91 L364.72,366.08 L365.02,367.24 L365.31,368.41 L365.61,369.57 L365.92,370.73 L366.23,371.90 L366.54,373.06 L366.86,374.22 L367.18,375.38 L367.51,376.53 L367.84,377.69 L368.18,378.85 L368.52,380.00 L368.86,381.16 L369.21,382.31 L369.57,383.46 L369.93,384.61 L370.29,385.76 L370.66,386.91 L371.04,388.05 L371.42,389.20 L371.80,390.34 L372.20,391.48 L372.60,392.61 L373.01,393.75 L373.43,394.87 L373.86,396.00 L374.29,397.12 L374.74,398.23 L375.20,399.34 L375.67,400.44 L376.14,401.54 L376.63,402.63 L377.14,403.72 L377.65,404.80 L378.18,405.87 L378.72,406.93 L379.27,407.98 L379.84,409.03 L380.42,410.07 L381.02,411.10 L381.64,412.11 L382.27,413.12 L382.92,414.12 L383.58,415.11 L384.26,416.09 L384.96,417.05 L385.68,418.01 L386.42,418.95 L387.17,419.88 L387.95,420.80 L388.74,421.70 L389.56,422.60 L390.40,423.47 L391.26,424.34 L392.14,425.19 L393.04,426.02 L393.97,426.84 L394.92,427.64 L395.89,428.43 L396.89,429.21 L397.92,429.96" fill="none" stroke="#2e2e2e" stroke-width="1.6" stroke-linecap="round" stroke-linejoin="round"/>
<path d="M109.25,883.57 L109.92,885.22 L110.69,886.38 L111.53,887.11 L112.45,887.49 L113.44,887.61 L114.48,887.55 L115.59,887.37 L116.73,887.17 L117.92,887.01 L119.14,886.93 L120.38,886.92 L121.63,886.96 L122.88,887.01 L124.13,887.06 L125.35,887.08 L126.55,887.05 L127.71,886.96 L128.82,886.77 L129.88,886.47 L130.88,886.05 L131.83,885.53 L132.73,884.91 L133.59,884.21 L134.40,883.43 L135.18,882.57 L135.92,881.66 L136.63,880.69 L137.32,879.68 L137.98,878.64 L138.62,877.56 L139.24,876.47 L139.86,875.37 L140.46,874.27 L141.05,873.17 L141.64,872.06 L142.22,870.96 L142.79,869.86 L143.36,868.76 L143.92,867.67 L144.47,866.57 L145.01,865.47 L145.55,864.37 L146.08,863.27 L146.60,862.18 L147.12,861.08 L147.64,859.98 L148.14,858.89 L148.65,857.79 L149.14,856.69 L149.64,855.59 L150.12,854.50 L150.61,853.40 L151.09,852.30 L151.56,851.20 L152.03,850.10 L152.50,849.00 L152.96,847.90 L153.42,846.80 L153.88,845.70 L154.33,844.60 L154.78,843.49 L155.23,842.39 L155.67,841.28 L156.12,840.17 L156.56,839.06 L157.00,837.95 L157.44,836.84 L157.87,835.73 L158.30,834.62 L158.74,833.50 L159.17,832.38 L159.59,831.27 L160.02,830.15 L160.45,829.03 L160.87,827.91 L161.29,826.79 L161.71,825.66 L162.13,824.54 L162.54,823.41 L162.96,822.29 L163.37,821.16 L163.78,820.03 L164.19,818.90 L164.60,817.77 L165.01,816.64 L165.41,815.51 L165.81,814.38 L166.21,813.24 L166.61,812.11 L167.01,810.97 L167.41,809.83 L167.81,808.70 L168.20,807.56 L168.59,806.42 L168.99,805.28 L169.38,804.14 L169.76,803.00 L170.15,801.86 L170.54,800.71 L170.92,799.57 L171.31,798.43 L171.69,797.28 L172.07,796.14 L172.45,794.99 L172.83,793.85 L173.20,792.70 L173.58,791.55 L173.95,790.40 L174.33,789.25 L174.70,788.11 L175.07,786.96 L175.44,785.81 L175.81,784.65 L176.18,783.50 L176.54,782.35 L176.91,781.20 L177.28,780.05 L177.64,778.90 L178.00,777.74 L178.36,776.59 L178.72,775.44 L179.08,774.28 L179.44,773.13 L179.80,771.97 L180.16,770.82 L180.51,769.67 L180.87,768.51 L181.22,767.36 L181.58,766.20 L181.93,765.05 L182.28,763.89 L182.64,762.73 L182.99,761.58 L183.34,760.42 L183.69,759.27 L184.03,758.11 L184.38,756.95 L184.73,755.80 L185.08,754.64 L185.42,753.49 L185.77,752.33 L186.11,751.18 L186.46,750.02 L186.80,748.86 L187.14,747.71 L187.48,746.55 L187.83,745.40 L188.17,744.24 L188.51,743.09 L188.85,741.93 L189.19,740.78 L189.53,739.63 L189.87,738.47 L190.21,737.32 L190.55,736.17 L190.88,735.01 L191.22,733.86 L191.56,732.71 L191.90,731.56 L192.23,730.41 L192.57,729.25 L192.91,728.10 L193.24,726.95 L193.58,725.80 L193.91,724.66 L194.25,723.51 L194.58,722.36 L194.92,721.21 L195.25,720.06 L195.59,718.92 L195.92,717.77 L196.26,716.63 L196.60,715.48 L196.94,714.34 L197.28,713.19 L197.63,712.04 L197.99,710.90 L198.35,709.75 L198.72,708.60 L199.09,707.45 L199.48,706.30 L199.87,705.15 L200.28,704.00 L200.70,702.84 L201.12,701.68 L201.57,700.52 L202.02,699.36 L202.49,698.20 L202.98,697.03 L203.48,695.86 L204.01,694.69 L204.57,693.60 L205.22,692.69 L205.99,692.09 L206.92,691.91 L208.00,692.15 L209.18,692.62 L210.40,693.13 L211.58,693.49 L212.66,693.51 L213.60,693.06 L214.46,692.30 L215.32,691.52 L216.26,690.98 L217.30,690.85 L218.26,691.12 L219.01,691.77 L219.57,692.70 L219.98,693.84 L220.32,695.07 L220.64,696.33 L220.94,697.57 L221.24,698.81 L221.53,700.04 L221.82,701.26 L222.10,702.48 L222.37,703.69 L222.64,704.89 L222.91,706.09 L223.16,707.29 L223.42,708.48 L223.67,709.66 L223.91,710.84 L224.15,712.02 L224.39,713.20 L224.63,714.37 L224.86,715.54 L225.09,716.71 L225.32,717.88 L225.54,719.05 L225.77,720.22 L225.99,721.38 L226.21,722.55 L226.44,723.72 L226.66,724.89 L226.88,726.06 L227.10,727.23 L227.32,728.40 L227.54,729.57 L227.76,730.75 L227.98,731.92 L228.20,733.10 L228.42,734.28 L228.64,735.45 L228.86,736.63 L229.07,737.81 L229.29,738.99 L229.51,740.17 L229.73,741.36 L229.95,742.54 L230.16,743.72 L230.38,744.91 L230.60,746.09 L230.81,747.27 L231.03,748.46 L231.25,749.65 L231.46,750.83 L231.68,752.02 L231.89,753.21 L232.11,754.40 L232.33,755.58 L232.54,756.77 L232.76,757.96 L232.97,759.15 L233.19,760.34 L233.40,761.53 L233.61,762.72 L233.83,763.91 L234.04,765.10 L234.26,766.30 L234.47,767.49 L234.69,768.68 L234.90,769.87 L235.11,771.06 L235.33,772.25 L235.54,773.44 L235.76,774.64 L235.97,775.83 L236.18,777.02 L236.40,778.21 L236.61,779.40 L236.83,780.59 L237.04,781.78 L237.25,782.98 L237.47,784.17 L237.68,785.36 L237.89,786.55 L238.11,787.74 L238.32,788.93 L238.54,790.12 L238.75,791.30 L238.96,792.49 L239.18,793.68 L239.39,794.87 L239.61,796.06 L239.82,797.24 L240.03,798.43 L240.25,799.61 L240.46,800.80 L240.68,801.98 L240.89,803.17 L241.11,804.35 L241.32,805.53 L241.54,806.72 L241.76,807.90 L241.97,809.08 L242.19,810.26 L242.41,811.44 L242.62,812.62 L242.84,813.80 L243.06,814.98 L243.28,816.16 L243.50,817.34 L243.72,818.52 L243.94,819.70 L244.16,820.88 L244.38,822.05 L244.61,823.23 L244.83,824.41 L245.05,825.58 L245.28,826.76 L245.51,827.94 L245.73,829.11 L245.96,830.29 L246.19,831.46 L246.42,832.64 L246.65,833.81 L246.88,834.99 L247.11,836.16 L247.34,837.33 L247.58,838.51 L247.81,839.68 L248.05,840.86 L248.29,842.03 L248.53,843.20 L248.77,844.37 L249.01,845.55 L249.25,846.72 L249.50,847.89 L249.74,849.07 L249.99,850.24 L250.24,851.41 L250.49,852.58 L250.74,853.75 L250.99,854.93 L251.24,856.10 L251.50,857.27 L251.75,858.44 L252.01,859.61 L252.27,860.78 L252.53,861.96 L252.80,863.13 L253.06,864.30 L253.33,865.47 L253.60,866.64 L253.87,867.82 L254.14,868.99 L254.41,870.16 L254.69,871.33 L254.97,872.50 L255.25,873.68 L255.53,874.85 L255.81,876.02 L256.10,877.19 L256.38,878.37 L256.67,879.54 L256.97,880.71 L257.26,881.88 L257.56,883.06 L257.85,884.23 L258.15,885.40 L258.46,886.58 L258.76,887.75 L259.07,888.93 L259.38,890.10 L259.69,891.27 L260.00,892.45 L260.32,893.62 L260.64,894.80 L260.96,895.98 L261.29,897.15 L261.61,898.33 L261.94,899.50 L262.27,900.68 L262.61,901.86 L262.95,903.03 L263.29,904.21 L263.63,905.38 L263.98,906.56 L264.33,907.73 L264.69,908.90 L265.05,910.07 L265.41,911.24 L265.78,912.41 L266.16,913.57 L266.54,914.74 L266.92,915.90 L267.31,917.05 L267.71,918.21 L268.11,919.36 L268.52,920.51 L268.93,921.66 L269.35,922.80 L269.78,923.94 L270.21,925.07 L270.65,926.20 L271.10,927.33 L271.55,928.45 L272.01,929.57 L272.48,930.68 L272.96,931.79 L273.44,932.89 L273.93,933.99 L274.43,935.08 L274.94,936.17 L275.46,937.25 L275.99,938.33 L276.53,939.40 L277.07,940.46 L277.63,941.51 L278.19,942.56 L278.76,943.60 L279.35,944.64 L279.94,945.66 L280.55,946.68 L281.16,947.70 L281.79,948.70 L282.43,949.70 L283.08,950.68 L283.73,951.66 L284.41,952.63 L285.09,953.59 L285.78,954.55 L286.49,955.49 L287.21,956.43 L287.94,957.35 L288.68,958.26 L289.44,959.17 L290.21,960.06 L290.99,960.95 L291.79,961.82 L292.60,962.69 L293.42,963.54 L294.26,964.38 L295.11,965.21 L295.97,966.03 L296.85,966.83 L297.75,967.63 L298.66,968.41 L299.58,969.18 L300.52,969.94 L301.47,970.69 L302.44,971.42 L303.43,972.14 L304.43,972.85 L305.45,973.54 L306.48,974.23 L307.53,974.89 L308.60,975.55 L309.69,976.18 L310.79,976.81 L311.91,977.42" fill="none" stroke="#2e2e2e" stroke-width="1.5" stroke-linecap="round" stroke-linejoin="round"/>
<path d="M126.92,895.46 L128.16,895.49 L129.39,895.47 L130.62,895.42 L131.84,895.32 L133.06,895.19 L134.27,895.03 L135.47,894.82 L136.66,894.59 L137.85,894.32 L139.02,894.01 L140.18,893.68 L141.34,893.31 L142.48,892.91 L143.61,892.49 L144.73,892.03 L145.83,891.55 L146.92,891.04 L148.00,890.50 L149.07,889.94 L150.12,889.35 L151.15,888.74 L152.17,888.11 L153.17,887.45 L154.15,886.77 L155.12,886.08 L156.07,885.36 L157.00,884.62 L157.91,883.87 L158.81,883.10 L159.69,882.31 L160.55,881.50 L161.40,880.68 L162.23,879.84 L163.04,878.98 L163.84,878.11 L164.62,877.23 L165.39,876.33 L166.15,875.42 L166.89,874.49 L167.62,873.55 L168.33,872.60 L169.04,871.64 L169.73,870.67 L170.40,869.68 L171.07,868.68 L171.73,867.68 L172.37,866.66 L173.00,865.64 L173.63,864.60 L174.24,863.56 L174.85,862.51 L175.44,861.46 L176.03,860.40 L176.61,859.33 L177.18,858.25 L177.74,857.17 L178.30,856.08 L178.85,854.99 L179.39,853.90 L179.92,852.80 L180.45,851.70 L180.98,850.60 L181.50,849.50 L182.01,848.39 L182.52,847.28 L183.03,846.17 L183.53,845.06 L184.03,843.95 L184.53,842.84 L185.02,841.73 L185.51,840.62 L185.99,839.51 L186.47,838.39 L186.95,837.28 L187.43,836.17 L187.90,835.05 L188.37,833.94 L188.84,832.82 L189.30,831.71 L189.76,830.59 L190.22,829.47 L190.68,828.36 L191.13,827.24 L191.58,826.12 L192.03,825.01 L192.48,823.89 L192.93,822.77 L193.37,821.65 L193.82,820.53 L194.26,819.42 L194.70,818.30 L195.14,817.18 L195.58,816.06 L196.01,814.94 L196.45,813.82 L196.88,812.71 L197.32,811.59 L197.75,810.47 L198.18,809.35 L198.61,808.23 L199.05,807.11 L199.48,806.00 L199.91,804.88 L200.34,803.76 L200.77,802.64 L201.20,801.53 L201.63,800.41 L202.07,799.29 L202.50,798.18 L202.93,797.06 L203.36,795.95 L203.80,794.83 L204.23,793.72 L204.67,792.60 L205.11,791.49 L205.54,790.38 L205.98,789.27 L206.42,788.15 L206.87,787.04 L207.31,785.93 L207.75,784.82 L208.20,783.71 L208.65,782.60 L209.10,781.50 L209.55,780.39 L210.01,779.28 L210.47,778.18 L210.93,777.07 L211.39,775.97 L211.85,774.86 L212.32,773.76 L212.79,772.66 L213.27,771.56 L213.74,770.46 L214.22,769.36 L214.70,768.26 L215.18,767.16 L215.66,766.06 L216.15,764.97 L216.63,763.87 L217.12,762.77 L217.60,761.67 L218.09,760.56 L218.57,759.46 L219.06,758.36 L219.54,757.25 L220.02,756.15 L220.50,755.04 L220.98,753.93 L221.46,752.81 L221.93,751.70 L222.41,750.58 L222.88,749.46 L223.34,748.34 L223.80,747.21 L224.26,746.08 L224.72,744.95 L225.17,743.81 L225.61,742.67 L226.05,741.52 L226.49,740.38 L226.92,739.22 L227.34,738.07 L227.76,736.90 L228.17,735.74 L228.59,734.58 L229.01,733.42 L229.45,732.27 L229.90,731.13 L230.37,730.00 L230.86,728.90 L231.39,727.81 L231.95,726.76 L232.55,725.73 L233.20,724.73 L233.89,723.77 L234.64,722.85 L235.44,721.98 L236.31,721.16 L237.21,720.42 L238.15,719.80 L239.12,719.30 L240.10,718.96 L241.09,718.81 L242.07,718.86 L243.04,719.15 L243.99,719.68 L244.90,720.41 L245.76,721.29 L246.58,722.25 L247.34,723.25 L248.05,724.28 L248.70,725.32 L249.31,726.39 L249.87,727.47 L250.39,728.57 L250.88,729.69 L251.33,730.82 L251.76,731.96 L252.16,733.11 L252.55,734.26 L252.92,735.43 L253.27,736.59 L253.62,737.76 L253.96,738.93 L254.30,740.10 L254.64,741.27 L254.97,742.44 L255.30,743.61 L255.62,744.78 L255.94,745.95 L256.26,747.12 L256.57,748.29 L256.88,749.46 L257.19,750.63 L257.49,751.80 L257.79,752.97 L258.09,754.15 L258.38,755.32 L258.67,756.49 L258.96,757.66 L259.24,758.83 L259.52,760.01 L259.80,761.18 L260.07,762.35 L260.34,763.53 L260.60,764.70 L260.87,765.87 L261.13,767.05 L261.39,768.22 L261.64,769.40 L261.89,770.57 L262.14,771.75 L262.38,772.93 L262.62,774.10 L262.86,775.28 L263.10,776.46 L263.33,777.63 L263.56,778.81 L263.79,779.99 L264.01,781.17 L264.23,782.35 L264.45,783.53 L264.67,784.71 L264.88,785.89 L265.09,787.07 L265.30,788.25 L265.50,789.44 L265.70,790.62 L265.90,791.80 L266.10,792.99 L266.29,794.17 L266.48,795.36 L266.67,796.54 L266.86,797.73 L267.04,798.91 L267.22,800.10 L267.40,801.29 L267.57,802.48 L267.75,803.67 L267.92,804.85 L268.09,806.04 L268.25,807.24 L268.42,808.43 L268.58,809.62 L268.74,810.81 L268.89,812.00 L269.05,813.20 L269.20,814.39 L269.35,815.59 L269.50,816.78 L269.65,817.98 L269.80,819.17 L269.94,820.37 L270.08,821.57 L270.23,822.76 L270.37,823.96 L270.51,825.16 L270.65,826.36 L270.78,827.55 L270.92,828.75 L271.06,829.95 L271.19,831.15 L271.33,832.35 L271.46,833.55 L271.60,834.75 L271.73,835.95 L271.86,837.15 L271.99,838.35 L272.13,839.55 L272.26,840.75 L272.39,841.95 L272.53,843.15 L272.66,844.35 L272.79,845.55 L272.93,846.75 L273.06,847.94 L273.20,849.14 L273.33,850.34 L273.47,851.54 L273.60,852.74 L273.74,853.94 L273.88,855.14 L274.02,856.34 L274.16,857.54 L274.30,858.73 L274.45,859.93 L274.59,861.13 L274.74,862.33 L274.89,863.52 L275.04,864.72 L275.19,865.92 L275.34,867.11 L275.50,868.31 L275.65,869.50 L275.81,870.70 L275.97,871.89 L276.14,873.08 L276.30,874.28 L276.47,875.47 L276.64,876.66 L276.82,877.85 L276.99,879.04 L277.17,880.23 L277.35,881.42 L277.54,882.61 L277.72,883.79 L277.91,884.98 L278.11,886.17 L278.31,887.35 L278.51,888.54 L278.71,889.72 L278.92,890.90 L279.13,892.09 L279.34,893.27 L279.56,894.45 L279.78,895.63 L280.01,896.80 L280.24,897.98 L280.47,899.16 L280.71,900.33 L280.96,901.51 L281.20,902.68 L281.45,903.85 L281.71,905.03 L281.96,906.20 L282.23,907.37 L282.49,908.54 L282.76,909.71 L283.03,910.87 L283.31,912.04 L283.59,913.21 L283.87,914.38 L284.15,915.54 L284.44,916.71 L284.73,917.87 L285.03,919.04 L285.33,920.20 L285.63,921.36 L285.93,922.53 L286.24,923.69 L286.55,924.85 L286.86,926.01 L287.17,927.18 L287.49,928.34 L287.81,929.50 L288.13,930.66 L288.46,931.82 L288.79,932.98 L289.11,934.14 L289.45,935.30 L289.78,936.46 L290.11,937.63 L290.45,938.79 L290.79,939.95 L291.13,941.11 L291.48,942.27 L291.82,943.43 L292.17,944.59 L292.52,945.76 L292.87,946.92 L293.22,948.08 L293.57,949.24 L293.92,950.41 L294.28,951.57 L294.64,952.73 L294.99,953.90 L295.36,955.06 L295.73,956.22 L296.10,957.38 L296.49,958.53 L296.90,959.67 L297.32,960.80 L297.76,961.93 L298.22,963.04 L298.71,964.14 L299.22,965.23 L299.76,966.30 L300.34,967.35 L300.95,968.38 L301.59,969.40 L302.28,970.39 L303.01,971.36 L303.78,972.30 L304.60,973.20 L305.47,974.04 L306.40,974.80 L307.39,975.47 L308.44,976.02 L309.56,976.45 L310.74,976.73 L312.00,976.84" fill="none" stroke="#2e2e2e" stroke-width="1.5" stroke-linecap="round" stroke-linejoin="round"/>
<path d="M108.33,946.40 L109.42,947.71 L110.50,948.82 L111.58,949.73 L112.65,950.45 L113.73,951.00 L114.80,951.39 L115.86,951.62 L116.92,951.70 L117.96,951.65 L119.00,951.48 L120.02,951.19 L121.03,950.80 L122.03,950.31 L123.01,949.73 L123.97,949.08 L124.91,948.37 L125.84,947.60 L126.74,946.79 L127.62,945.94 L128.47,945.07 L129.30,944.18 L130.10,943.27 L130.88,942.35 L131.64,941.42 L132.37,940.47 L133.09,939.50 L133.78,938.53 L134.45,937.54 L135.10,936.54 L135.73,935.52 L136.34,934.50 L136.94,933.46 L137.51,932.42 L138.07,931.36 L138.62,930.29 L139.15,929.22 L139.66,928.13 L140.16,927.04 L140.65,925.94 L141.13,924.83 L141.59,923.72 L142.04,922.59 L142.48,921.47 L142.91,920.33 L143.34,919.20 L143.75,918.05 L144.16,916.91 L144.56,915.76 L144.95,914.60 L145.34,913.45 L145.72,912.29 L146.10,911.13 L146.47,909.96 L146.84,908.80 L147.21,907.64 L147.58,906.47 L147.94,905.31 L148.31,904.15 L148.67,902.98 L149.04,901.83 L149.41,900.67 L149.78,899.51 L150.15,898.36 L150.53,897.21 L150.91,896.07 L151.30,894.93 L151.69,893.79 L152.08,892.65 L152.47,891.52 L152.87,890.39 L153.28,889.27 L153.69,888.14 L154.10,887.02 L154.52,885.91 L154.94,884.79 L155.36,883.68 L155.79,882.57 L156.23,881.47 L156.67,880.36 L157.11,879.26 L157.56,878.16 L158.02,877.07 L158.48,875.97 L158.94,874.88 L159.41,873.79 L159.89,872.70 L160.37,871.62 L160.85,870.54 L161.34,869.45 L161.84,868.38 L162.34,867.30 L162.85,866.22 L163.37,865.15 L163.89,864.08 L164.41,863.01 L164.95,861.94 L165.49,860.88 L166.03,859.81 L166.58,858.75 L167.14,857.69 L167.71,856.63 L168.28,855.57 L168.86,854.51 L169.44,853.45 L170.03,852.40 L170.63,851.34 L171.24,850.29 L171.85,849.24 L172.47,848.19 L173.10,847.14 L173.73,846.09 L174.38,845.05 L175.03,844.01 L175.70,842.98 L176.37,841.95 L177.06,840.93 L177.76,839.92 L178.47,838.93 L179.20,837.94 L179.93,836.96 L180.69,836.00 L181.46,835.05 L182.24,834.11 L183.04,833.20 L183.86,832.30 L184.70,831.41 L185.55,830.55 L186.42,829.71 L187.32,828.88 L188.23,828.09 L189.16,827.31 L190.12,826.56 L191.10,825.83 L192.10,825.14 L193.12,824.50 L194.17,823.91 L195.25,823.40 L196.35,822.96 L197.47,822.60 L198.60,822.33 L199.73,822.14 L200.86,822.03 L201.98,822.02 L203.07,822.10 L204.14,822.28 L205.18,822.55 L206.17,822.92 L207.12,823.39 L208.02,823.95 L208.87,824.61 L209.68,825.34 L210.46,826.15 L211.19,827.03 L211.89,827.97 L212.56,828.97 L213.19,830.02 L213.79,831.11 L214.37,832.24 L214.92,833.41 L215.45,834.60 L215.95,835.82 L216.43,837.04 L216.90,838.28 L217.35,839.52 L217.79,840.75 L218.21,841.97 L218.63,843.18 L219.03,844.38 L219.43,845.56 L219.81,846.74 L220.19,847.91 L220.57,849.06 L220.93,850.21 L221.29,851.35 L221.65,852.49 L222.00,853.61 L222.35,854.74 L222.70,855.86 L223.04,856.97 L223.38,858.08 L223.72,859.19 L224.06,860.30 L224.41,861.41 L224.75,862.52 L225.09,863.63 L225.44,864.74 L225.79,865.85 L226.15,866.96 L226.51,868.08 L226.87,869.20 L227.24,870.32 L227.60,871.44 L227.98,872.57 L228.35,873.69 L228.74,874.82 L229.12,875.95 L229.51,877.08 L229.90,878.21 L230.30,879.34 L230.70,880.47 L231.11,881.60 L231.52,882.73 L231.93,883.86 L232.35,884.99 L232.77,886.12 L233.20,887.26 L233.63,888.39 L234.07,889.51 L234.51,890.64 L234.96,891.77 L235.41,892.90 L235.87,894.02 L236.33,895.15 L236.79,896.27 L237.27,897.39 L237.74,898.51 L238.23,899.62 L238.71,900.74 L239.21,901.85 L239.71,902.96 L240.21,904.07 L240.72,905.17 L241.24,906.28 L241.76,907.37 L242.29,908.47 L242.82,909.56 L243.36,910.65 L243.90,911.74 L244.46,912.82 L245.01,913.90 L245.58,914.97 L246.15,916.04 L246.72,917.10 L247.31,918.16 L247.89,919.22 L248.49,920.27 L249.09,921.32 L249.70,922.36 L250.32,923.39 L250.94,924.43 L251.57,925.45 L252.21,926.47 L252.85,927.48 L253.50,928.49 L254.16,929.50 L254.82,930.49 L255.49,931.48 L256.17,932.47 L256.86,933.45 L257.55,934.42 L258.25,935.38 L258.96,936.34 L259.68,937.30 L260.40,938.24 L261.13,939.18 L261.87,940.12 L262.61,941.04 L263.37,941.96 L264.13,942.87 L264.90,943.78 L265.68,944.68 L266.46,945.57 L267.25,946.45 L268.05,947.33 L268.86,948.20 L269.68,949.06 L270.50,949.92 L271.34,950.76 L272.18,951.60 L273.03,952.43 L273.89,953.26 L274.75,954.07 L275.63,954.88 L276.51,955.68 L277.40,956.47 L278.30,957.25 L279.21,958.02 L280.13,958.79 L281.05,959.55 L281.99,960.30 L282.93,961.04 L283.88,961.77 L284.84,962.49 L285.81,963.20 L286.79,963.91 L287.78,964.60 L288.78,965.29 L289.78,965.97 L290.80,966.63 L291.82,967.29 L292.86,967.94 L293.90,968.58 L294.95,969.21 L296.02,969.83 L297.09,970.44 L298.17,971.04 L299.26,971.62 L300.36,972.19 L301.46,972.74 L302.57,973.27 L303.69,973.78 L304.82,974.26 L305.96,974.71 L307.09,975.14 L308.24,975.53 L309.39,975.89 L310.55,976.22 L311.71,976.51 L312.87,976.75 L314.04,976.96 L315.21,977.12 L316.38,977.23 L317.56,977.31 L318.73,977.35 L319.91,977.35 L321.10,977.32 L322.28,977.26 L323.46,977.16 L324.65,977.04 L325.83,976.88 L327.01,976.70 L328.20,976.50 L329.38,976.27 L330.56,976.03 L331.74,975.76 L332.91,975.48 L334.09,975.18 L335.26,974.87 L336.43,974.55 L337.59,974.21 L338.75,973.87 L339.91,973.52 L341.06,973.16 L342.21,972.79 L343.36,972.42 L344.50,972.03 L345.64,971.64 L346.77,971.24 L347.91,970.84 L349.04,970.42 L350.16,970.00 L351.28,969.57 L352.40,969.14 L353.52,968.70 L354.63,968.25 L355.74,967.79 L356.85,967.33 L357.95,966.86 L359.06,966.39 L360.16,965.91 L361.25,965.42 L362.35,964.93 L363.44,964.43 L364.53,963.93 L365.61,963.42 L366.70,962.91 L367.78,962.39 L368.86,961.87 L369.93,961.34 L371.01,960.81 L372.08,960.27 L373.15,959.73 L374.22,959.18 L375.29,958.63 L376.35,958.07 L377.41,957.51 L378.48,956.95 L379.53,956.38 L380.59,955.82 L381.65,955.24 L382.70,954.67 L383.76,954.09 L384.81,953.50 L385.86,952.92 L386.91,952.33 L387.96,951.74 L389.00,951.14 L390.05,950.55 L391.10,949.95 L392.14,949.35 L393.18,948.75 L394.22,948.14 L395.27,947.54 L396.31,946.93 L397.35,946.32 L398.38,945.71 L399.42,945.10 L400.46,944.49 L401.50,943.88 L402.53,943.26 L403.57,942.65 L404.61,942.03 L405.64,941.41 L406.67,940.80 L407.71,940.18 L408.74,939.55 L409.77,938.93 L410.80,938.31 L411.83,937.68 L412.86,937.06 L413.89,936.43 L414.92,935.80 L415.94,935.17 L416.97,934.53 L417.99,933.90 L419.01,933.26 L420.04,932.62 L421.06,931.98 L422.07,931.34 L423.09,930.70 L424.11,930.05 L425.12,929.40 L426.14,928.76 L427.15,928.10 L428.16,927.45 L429.17,926.79 L430.17,926.14 L431.18,925.48 L432.18,924.81 L433.18,924.15 L434.18,923.48 L435.18,922.81 L436.18,922.14 L437.17,921.47 L438.17,920.79 L439.16,920.11 L440.15,919.43 L441.13,918.74 L442.12,918.06 L443.10,917.37 L444.08,916.67 L445.06,915.98 L446.04,915.28 L447.01,914.58 L447.99,913.88 L448.95,913.17 L449.92,912.46 L450.89,911.75 L451.85,911.03 L452.81,910.31 L453.77,909.59 L454.72,908.86 L455.68,908.13 L456.63,907.40 L457.57,906.67 L458.52,905.93 L459.46,905.19 L460.40,904.44 L461.33,903.69 L462.27,902.94 L463.20,902.18 L464.13,901.42 L465.05,900.66 L465.97,899.89 L466.89,899.12 L467.81,898.35 L468.73,897.57 L469.64,896.79 L470.55,896.01 L471.45,895.23 L472.36,894.44 L473.26,893.65 L474.16,892.85 L475.06,892.06 L475.96,891.26 L476.85,890.46 L477.74,889.65 L478.63,888.85 L479.52,888.04 L480.41,887.22 L481.29,886.41 L482.17,885.59 L483.05,884.78 L483.93,883.96 L484.81,883.13 L485.69,882.31 L486.56,881.48 L487.43,880.66 L488.31,879.83 L489.18,878.99 L490.04,878.16 L490.91,877.33 L491.78,876.49 L492.64,875.65 L493.51,874.81 L494.37,873.97 L495.23,873.13 L496.09,872.29 L496.95,871.44 L497.81,870.60 L498.67,869.75 L499.53,868.91 L500.39,868.06 L501.24,867.21 L502.10,866.36 L502.95,865.51 L503.81,864.66 L504.66,863.81 L505.51,862.96 L506.37,862.10 L507.22,861.25 L508.07,860.40 L508.93,859.54 L509.78,858.69 L510.64,857.85 L511.50,857.00 L512.36,856.17 L513.23,855.34 L514.10,854.52 L514.97,853.70 L515.86,852.90 L516.75,852.11 L517.65,851.34 L518.56,850.58 L519.48,849.83 L520.41,849.10 L521.35,848.39 L522.30,847.70 L523.26,847.03 L524.24,846.38 L525.23,845.76 L526.24,845.16 L527.27,844.59 L528.31,844.04 L529.37,843.52 L530.44,843.03 L531.54,842.58 L532.65,842.15 L533.79,841.76 L534.95,841.41 L536.13,841.09 L537.33,840.80 L538.54,840.55 L539.77,840.34 L541.02,840.16 L542.27,840.01 L543.53,839.90 L544.79,839.82 L546.06,839.78 L547.33,839.77 L548.59,839.79 L549.85,839.85 L551.10,839.94 L552.34,840.06 L553.57,840.21 L554.79,840.39 L555.99,840.60 L557.17,840.85 L558.34,841.12 L559.49,841.43 L560.63,841.76 L561.76,842.11 L562.87,842.50 L563.97,842.91 L565.05,843.35 L566.13,843.81 L567.19,844.30 L568.23,844.81 L569.27,845.34 L570.29,845.89 L571.31,846.47 L572.31,847.07 L573.30,847.68 L574.28,848.32 L575.25,848.98 L576.21,849.65 L577.16,850.34 L578.10,851.05 L579.03,851.78 L579.96,852.52 L580.87,853.28 L581.78,854.05 L582.68,854.83 L583.57,855.63 L584.45,856.44 L585.33,857.26 L586.20,858.09 L587.06,858.93 L587.92,859.78 L588.78,860.64 L589.62,861.51 L590.47,862.39 L591.30,863.27 L592.14,864.16 L592.97,865.06 L593.79,865.96 L594.61,866.86 L595.43,867.77 L596.24,868.68 L597.06,869.60 L597.87,870.51 L598.67,871.43 L599.48,872.35 L600.28,873.26 L601.09,874.18 L601.89,875.10 L602.69,876.01 L603.49,876.92 L604.29,877.83 L605.08,878.75 L605.88,879.66 L606.68,880.56 L607.48,881.47 L608.27,882.38 L609.07,883.28 L609.86,884.19 L610.66,885.09 L611.46,885.99 L612.25,886.89 L613.05,887.79 L613.85,888.69 L614.64,889.58 L615.44,890.48 L616.24,891.37 L617.04,892.26 L617.84,893.15 L618.64,894.03 L619.44,894.92 L620.25,895.80 L621.05,896.69 L621.86,897.57 L622.67,898.44 L623.48,899.32 L624.29,900.19 L625.10,901.07 L625.92,901.94 L626.74,902.81 L627.56,903.67 L628.38,904.54 L629.20,905.40 L630.03,906.26 L630.86,907.12 L631.69,907.97 L632.52,908.82 L633.36,909.67 L634.20,910.52 L635.05,911.37 L635.89,912.21 L636.74,913.05 L637.60,913.89 L638.46,914.73 L639.32,915.56 L640.18,916.39 L641.05,917.22 L641.92,918.04 L642.80,918.87 L643.68,919.69 L644.56,920.50 L645.45,921.32 L646.35,922.13 L647.24,922.94 L648.15,923.74 L649.05,924.54 L649.97,925.34 L650.88,926.13 L651.80,926.92 L652.73,927.71 L653.66,928.49 L654.59,929.26 L655.53,930.03 L656.47,930.80 L657.42,931.56 L658.37,932.31 L659.33,933.06 L660.29,933.80 L661.26,934.53 L662.23,935.26 L663.21,935.98 L664.19,936.69 L665.17,937.39 L666.16,938.09 L667.16,938.78 L668.16,939.46 L669.16,940.13 L670.17,940.79 L671.18,941.45 L672.20,942.09 L673.22,942.73 L674.25,943.35 L675.29,943.97 L676.32,944.57 L677.36,945.17 L678.41,945.75 L679.46,946.33 L680.52,946.89 L681.58,947.44 L682.65,947.98 L683.72,948.51 L684.79,949.02 L685.88,949.52 L686.96,950.01 L688.05,950.49 L689.15,950.96 L690.25,951.41 L691.35,951.84 L692.46,952.27 L693.58,952.68 L694.70,953.07 L695.82,953.45 L696.95,953.82 L698.09,954.17 L699.23,954.51 L700.37,954.83 L701.52,955.13 L702.68,955.42 L703.84,955.69 L705.00,955.95 L706.17,956.19 L707.35,956.41 L708.53,956.61 L709.71,956.80 L710.90,956.97 L712.10,957.12 L713.30,957.26 L714.51,957.37 L715.72,957.47 L716.93,957.55 L718.15,957.61 L719.38,957.65 L720.61,957.67 L721.85,957.67 L723.09,957.65 L724.34,957.61 L725.59,957.55 L726.85,957.47 L728.11,957.37" fill="none" stroke="#2e2e2e" stroke-width="1.5" stroke-linecap="round" stroke-linejoin="round"/>
</svg>
</body></html>
